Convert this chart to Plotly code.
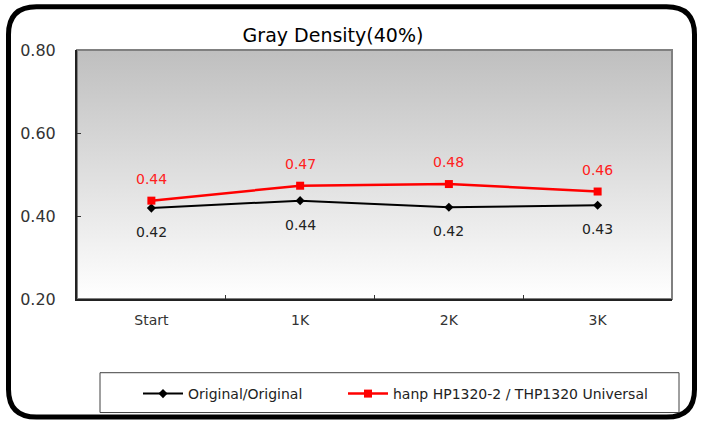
import base64
import plotly.graph_objects as go

categories = ["Start", "1K", "2K", "3K"]
original_values = [0.419, 0.437, 0.421, 0.426]
hanp_values = [0.437, 0.473, 0.477, 0.459]
y_ticks = [0.2, 0.4, 0.6, 0.8]
series_names = ["Original/Original", "hanp HP1320-2 / THP1320 Universal"]
title_text = "Gray Density(40%)"

W, H = 705, 421
L, R, T, B = 77, 672, 50, 300  # plot area in px

def px(x):
    return (x - L) / (R - L)

def py(y):
    return (B - y) / (B - T)

FONT = "DejaVu Sans"

fig = go.Figure()
fig.add_trace(go.Scatter(
    x=categories, y=original_values, name=series_names[0], mode="lines+markers",
    line=dict(color="#000000", width=2),
    marker=dict(symbol="diamond", size=7, color="#000000"),
    legend="legend",
))
fig.add_trace(go.Scatter(
    x=categories, y=hanp_values, name=series_names[1], mode="lines+markers",
    line=dict(color="#FF0000", width=2.5),
    marker=dict(symbol="square", size=8, color="#FF0000"),
    legend="legend2",
))

annotations = []
for c, v in zip(categories, original_values):
    annotations.append(dict(x=c, y=v, xref="x", yref="y", text=f"{v:.2f}", showarrow=False,
                            yshift=-24, font=dict(family=FONT, size=14, color="#222222")))
for c, v in zip(categories, hanp_values):
    annotations.append(dict(x=c, y=v, xref="x", yref="y", text=f"{v:.2f}", showarrow=False,
                            yshift=22, font=dict(family=FONT, size=14, color="#FF2020")))

svg = ('<svg xmlns="http://www.w3.org/2000/svg" width="10" height="100" preserveAspectRatio="none">'
       '<defs><linearGradient id="g" x1="0" y1="0" x2="0" y2="1">'
       '<stop offset="0" stop-color="#bfbfbf"/><stop offset="1" stop-color="#ffffff"/>'
       '</linearGradient></defs><rect width="10" height="100" fill="url(#g)"/></svg>')
src = "data:image/svg+xml;base64," + base64.b64encode(svg.encode()).decode()

# rounded outer border
x0, x1, y0, y1, r = 8.5, 694.5, 6.5, 418.5, 28
path = (f"M {px(x0+r)},{py(y0)} L {px(x1-r)},{py(y0)} Q {px(x1)},{py(y0)} {px(x1)},{py(y0+r)} "
        f"L {px(x1)},{py(y1-r)} Q {px(x1)},{py(y1)} {px(x1-r)},{py(y1)} "
        f"L {px(x0+r)},{py(y1)} Q {px(x0)},{py(y1)} {px(x0)},{py(y1-r)} "
        f"L {px(x0)},{py(y0+r)} Q {px(x0)},{py(y0)} {px(x0+r)},{py(y0)} Z")

shapes = [
    dict(type="path", path=path, xref="paper", yref="paper", line=dict(color="#000000", width=5), layer="above"),
    dict(type="rect", xref="paper", yref="paper", x0=0, x1=1, y0=0, y1=1,
         line=dict(color="#808080", width=2), layer="below"),
    dict(type="rect", xref="paper", yref="paper", x0=px(100), x1=px(679), y0=py(374), y1=py(414),
         line=dict(color="#404040", width=1), fillcolor="rgba(0,0,0,0)", layer="above"),
]

legend_common = dict(orientation="h", xanchor="left", y=py(394), yanchor="middle",
                     font=dict(family=FONT, size=14, color="#222222"), bgcolor="rgba(0,0,0,0)",
                     itemwidth=40)

fig.update_layout(
    width=W, height=H,
    margin=dict(l=L, r=W - R, t=T, b=H - B),
    paper_bgcolor="#ffffff", plot_bgcolor="#ffffff",
    font=dict(family=FONT, color="#333333"),
    title=dict(text=title_text, x=333 / W, xanchor="center", xref="container",
               y=1 - 35 / H, yanchor="middle", yref="container",
               font=dict(family=FONT, size=19, color="#000000")),
    showlegend=True,
    legend=dict(x=px(138), **legend_common),
    legend2=dict(x=px(343), **legend_common),
    images=[dict(source=src, xref="paper", yref="paper", x=0, y=1, sizex=1, sizey=1,
                 sizing="stretch", layer="below", xanchor="left", yanchor="top")],
    shapes=shapes,
    annotations=annotations,
)
fig.update_xaxes(type="category", range=[-0.5, 3.5], tickson="boundaries", ticks="inside", ticklen=4,
                 tickcolor="#333333", showline=True, linecolor="#222222", linewidth=2, showgrid=False,
                 zeroline=False, tickfont=dict(family=FONT, size=14, color="#333333"), ticklabelstandoff=7)
fig.update_yaxes(range=[0.2, 0.8], tickvals=y_ticks, tickformat=".2f", ticks="inside", ticklen=4,
                 tickcolor="#333333", showline=True, linecolor="#222222", linewidth=2, showgrid=False,
                 zeroline=False, tickfont=dict(family=FONT, size=16, color="#333333"), ticklabelstandoff=16)

fig.write_html("out.html", config={"displayModeBar": False},
               post_script="document.body.style.margin='0';")
